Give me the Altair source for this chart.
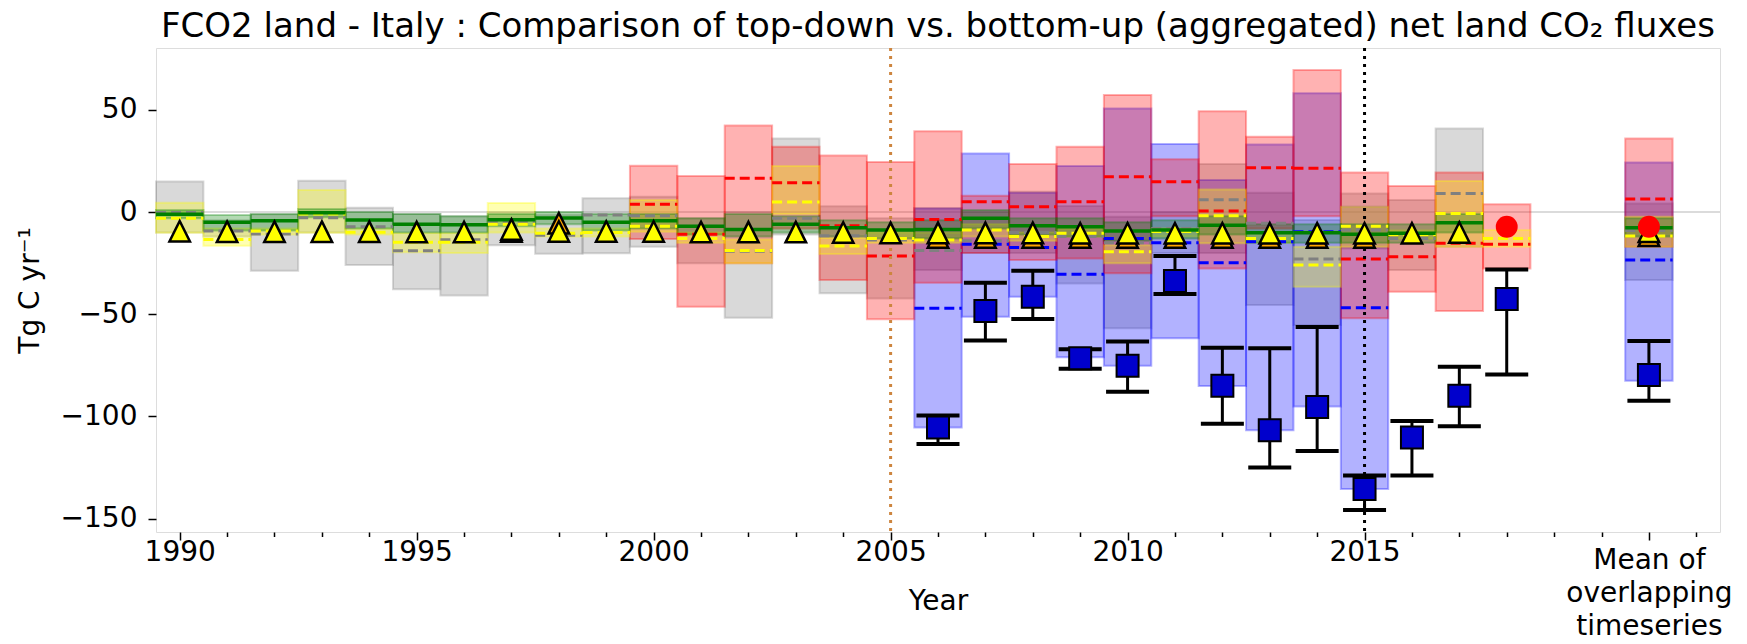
import altair as alt
import pandas as pd

# ---------------- data ----------------
MEAN_X = 2021

GRAY_X = list(range(1990, 2018)) + [MEAN_X]
GRAY_LO = [-10, -12, -28.7, -10, -25.9, -37.8, -40.9, -16.3, -20.4, -20.2, -17, -25, -51.7, -11,
           -39.8, -42.3, -28.4, -20, -20, -35, -56.9, -20, -20, -45.5, -55.3, -17.8, -28.4, -17, -33.3]
GRAY_HI = [15, -4, -1.1, 15.3, 2.1, -1, -2, 0, -1.3, 6.7, 7.5, -3, 0, 36,
           2.9, -3, 2, 0, 10, 3, -2.3, 0, 23.5, 9.5, -3.9, 9.1, 5.9, 40.9, 4.2]
GRAY_MED = [-0.2, -9.3, -10.8, -2.8, -7.2, -18.9, -13.5, -5, -11.4, -1.5, -1.8, -7, -19.2, -3,
            -11.6, -13.7, -18.8, -14, -10, -12, -15, -8, 6, -5.5, -23, -8.8, -12.9, 9.1, -9]

YELLOW_X = list(range(1990, 2019)) + [MEAN_X]
YELLOW_LO = [-10.1, -16.5, -11, -10.1, -11, -19.7, -20, -10, -12, -12, -9.6, -15, -25, -1, -20.5,
             -15, -15, -12, -14, -12, -25.1, -12, -15.3, -15, -36.5, -17, -13, -17, -17, -17]
YELLOW_HI = [4.5, -8, -8, 10.8, -8, -10.3, -10.3, 4.4, -8, -8, 5.9, -10, -13.4, 22.5, -12.7,
             -10, -10, -6, -10, -8, -16.2, -8, 11.1, -10, -17, 2.6, -9, 15.2, -8.8, -2.3]
YELLOW_MED = [-3, -13.4, -9.3, -1, -9.9, -14.8, -14.8, -6, -10.4, -10, -7, -12.9, -18.8, 4.9, -16.6,
              -12.9, -13.7, -8.8, -12, -10.4, -19.4, -9.5, -1.8, -12.9, -25.9, -6.9, -11, -0.7, -12.9, -11.7]

GREEN_X = list(range(1990, 2018)) + [MEAN_X]
GREEN_MID = [-1.1, -5, -4.2, -0.3, -3.9, -6, -6.2, -3.8, -2.9, -5, -4.2, -6.9, -8.5, -6, -7.7,
             -8.8, -8.5, -3, -6.7, -7.2, -9.3, -8.8, -6.4, -10.1, -10.1, -10.9, -10.4, -5.2, -7.7]
GREEN_LO = [-3, -9, -9, -2.5, -8, -10, -10, -7, -6, -9, -8, -11, -12, -10, -12,
            -13, -13, -8, -11, -12, -14, -13, -11, -15, -15, -15, -15, -10, -12]
GREEN_HI = [1, -1.5, -1, 1.5, 0, -1, -2, -1, 0, -1, -1, -3, -1, -2, -4,
            -5, -4, 1, -3, -3, -5, -4, -2, -6, -6, -6, -6, -1, -3]

RED_X = list(range(2000, 2019)) + [MEAN_X]
RED_LO = [-13.2, -46.3, -25, -8, -33.3, -52.5, -34.6, -20, -23.5, -22.7, -30, -2, -27.6, -8, -2,
          -52, -39, -48.4, -27.6, -17]
RED_HI = [22.7, 17.6, 42.4, 32, 27.7, 24.5, 39.6, 8, 23.5, 32, 57.3, 25.8, 49.4, 36.9, 69.5,
          19.4, 12.7, 19.4, 3.8, 36]
RED_MED = [3.8, -10.9, 16.5, 14.4, -6.7, -21.5, -3.6, 5.1, 2.6, 5.1, 17.3, 14.8, 0.5, 21.7, 21.4,
           -23, -21.9, -15.3, -15.8, 6.4]

BLUE_X = list(range(2006, 2016)) + [MEAN_X]
BLUE_LO = [-105.5, -51.2, -41.4, -71.1, -75.2, -61.8, -85.1, -106.8, -95.2, -135.5, -82.6]
BLUE_HI = [1.8, 28.7, 9.5, 22.5, 50.7, 33.3, 15.7, 33.1, 58.1, 2.6, 24.3]
BLUE_MED = [-47.1, -15.8, -17.3, -30.5, -13, -15, -24.8, -14.5, -9.6, -46.8, -23.5]

SQ_X = list(range(2006, 2019)) + [MEAN_X]
SQ_VAL = [-105.5, -48.4, -41.4, -71.6, -75.2, -33.7, -85, -106.8, -95.4, -135.5, -110.4, -89.9, -42.6, -79.7]
SQ_LO = [-113.5, -62.9, -52.4, -76.7, -87.9, -40.1, -103.6, -125, -116.9, -145.8, -128.9, -104.9, -79.5, -92.4]
SQ_HI = [-99.6, -34.6, -28.7, -67.2, -63.4, -21.5, -66.4, -66.7, -56.3, -129, -102.3, -75.7, -28.1, -63.1]

TRI_X = list(range(1990, 2018)) + [MEAN_X]
TRI_Y = [-9.4, -9.6, -9.6, -9.6, -9.6, -9.8, -9.8, -8.5, -9.5, -9.5, -9.5, -9.8, -9.8, -9.8, -10,
         -10.2, -10.2, -10.2, -10.2, -10.4, -10.4, -10.4, -10.4, -10.4, -10.4, -10.4, -10.4, -10, -9.6]

ORANGE_X = [1997, 1998] + list(range(2006, 2016)) + [MEAN_X]
ORANGE_Y = [-9.5, -5.5, -12.4, -12.4, -12.4, -12.4, -12.4, -12.4, -12.4, -12.4, -12.4, -12.4, -11.6]

CIRCLE_X = [2018, MEAN_X]
CIRCLE_Y = [-7.2, -7.2]

VLINE_X = [2005, 2015]
VLINE_COLOR = ["peru", "black"]

TICK_YEARS = list(range(1990, 2023))
Y_TICKS = [-150, -100, -50, 0, 50]

TITLE = "FCO2 land - Italy : Comparison of top-down vs. bottom-up (aggregated) net land CO\u2082 fluxes"
FONT = "DejaVu Sans"

# ---------------- helpers ----------------
XS = alt.Scale(domain=[1989.5, 2022.5], nice=False, zero=False)
YS = alt.Scale(domain=[-156.6, 80.3], nice=False, zero=False)

MAJOR = "(datum.value % 5 == 0 && datum.value <= 2015) || datum.value == 2021"

XAXIS = alt.Axis(
    values=TICK_YEARS, format="d", title="Year", titleFontSize=28, titleFont=FONT,
    titleFontWeight="normal", titleY=69, titleBaseline="middle", titleColor="black",
    labelExpr="datum.value == 2021 ? ['Mean of', 'overlapping', 'timeseries'] : "
              "((datum.value % 5 == 0 && datum.value <= 2015) ? datum.label : '')",
    labelFontSize=28, labelFont=FONT, labelLineHeight=33,
    labelPadding={"condition": {"test": "datum.value == 2021", "value": 6}, "value": -2},
    labelOverlap=False, labelFlush=False, labelColor="black",
    tickSize={"condition": {"test": MAJOR, "value": 8}, "value": 4.5},
    tickColor="black", tickWidth=1.5, grid=False, domain=False,
)
YAXIS = alt.Axis(
    values=Y_TICKS, title="Tg C yr\u207b\u00b9", titleFontSize=28, titleFont=FONT,
    titleFontWeight="normal", titleX=-126, titleY=242, titleAngle=-90, titleAlign="center",
    titleBaseline="middle", titleColor="black",
    labelFontSize=28, labelFont=FONT, labelPadding=11, labelColor="black",
    tickSize=8, tickColor="black", tickWidth=1.5, grid=False, domain=False,
)


def X(f):
    return alt.X(f, type="quantitative", scale=XS, axis=XAXIS)


def Y(f):
    return alt.Y(f, type="quantitative", scale=YS, axis=YAXIS)


def box_df(xs, lo, hi, med=None):
    d = pd.DataFrame({"x": xs, "lo": lo, "hi": hi})
    d["x0"] = d["x"] - 0.5
    d["x1"] = d["x"] + 0.5
    if med is not None:
        d["med"] = med
    return d


def boxes(d, color):
    return alt.Chart(d).mark_rect(fill=color, fillOpacity=0.3, stroke=color, strokeOpacity=0.3,
                                  strokeWidth=2).encode(x=X("x0"), x2="x1", y=Y("lo"), y2="hi")


def medians(d, color, dash=True, width=3):
    kw = dict(color=color, strokeWidth=width)
    if dash:
        kw["strokeDash"] = [10, 5]
    return alt.Chart(d).mark_rule(**kw).encode(x=X("x0"), x2="x1", y=Y("med"))


gray = box_df(GRAY_X, GRAY_LO, GRAY_HI, GRAY_MED)
yellow = box_df(YELLOW_X, YELLOW_LO, YELLOW_HI, YELLOW_MED)
green = box_df(GREEN_X, GREEN_LO, GREEN_HI, GREEN_MID)
red = box_df(RED_X, RED_LO, RED_HI, RED_MED)
blue = box_df(BLUE_X, BLUE_LO, BLUE_HI, BLUE_MED)

sq = pd.DataFrame({"x": SQ_X, "v": SQ_VAL, "lo": SQ_LO, "hi": SQ_HI})
tri = pd.DataFrame({"x": TRI_X, "v": TRI_Y})
ora = pd.DataFrame({"x": ORANGE_X, "v": ORANGE_Y})
cir = pd.DataFrame({"x": CIRCLE_X, "v": CIRCLE_Y})
vl = pd.DataFrame({"x": VLINE_X, "c": VLINE_COLOR})
zero = pd.DataFrame({"v": [0]})

TRI_SHAPE = "M0,-1L1,1L-1,1Z"

layers = [
    alt.Chart(zero).mark_rule(color="#cfcfcf", strokeWidth=1.5).encode(y=Y("v")),
    boxes(gray, "gray"),
    boxes(blue, "blue"),
    boxes(red, "red"),
    boxes(yellow, "yellow"),
    boxes(green, "green"),
    medians(gray, "gray"),
    medians(yellow, "yellow"),
    medians(red, "red"),
    medians(blue, "blue"),
    medians(green, "green", dash=False, width=3.5),
    alt.Chart(vl).mark_rule(strokeDash=[3, 5], strokeWidth=3).encode(
        x=X("x"), color=alt.Color("c:N", scale=None)),
    alt.Chart(sq).mark_rule(color="black", strokeWidth=3).encode(x=X("x"), y=Y("lo"), y2="hi"),
    alt.Chart(sq).mark_tick(orient="horizontal", size=43, thickness=4, color="black", opacity=1).encode(
        x=X("x"), y=Y("lo")),
    alt.Chart(sq).mark_tick(orient="horizontal", size=43, thickness=4, color="black", opacity=1).encode(
        x=X("x"), y=Y("hi")),
    alt.Chart(sq).mark_square(size=484, fill="#0000cc", stroke="black", strokeWidth=2, opacity=1).encode(
        x=X("x"), y=Y("v")),
    alt.Chart(ora).mark_point(shape=TRI_SHAPE, size=420, filled=True, fill="orange", stroke="black",
                              strokeWidth=2.5, opacity=1).encode(x=X("x"), y=Y("v")),
    alt.Chart(tri).mark_point(shape=TRI_SHAPE, size=420, filled=True, fill="yellow", stroke="black",
                              strokeWidth=2.5, opacity=1).encode(x=X("x"), y=Y("v")),
    alt.Chart(cir).mark_circle(size=480, color="red", opacity=1).encode(x=X("x"), y=Y("v")),
]

chart = alt.layer(*layers).properties(
    width=1564, height=484,
    title=alt.TitleParams(TITLE, fontSize=34, font=FONT, fontWeight="normal", anchor="middle",
                          offset=3, color="black"),
    autosize=alt.AutoSizeParams(type="none"),
    padding={"left": 148, "top": 40, "right": 15, "bottom": 104},
).configure_view(stroke="black", strokeWidth=2).configure(background="white")

chart.save("out.html", embed_options={"renderer": "svg", "actions": False})
